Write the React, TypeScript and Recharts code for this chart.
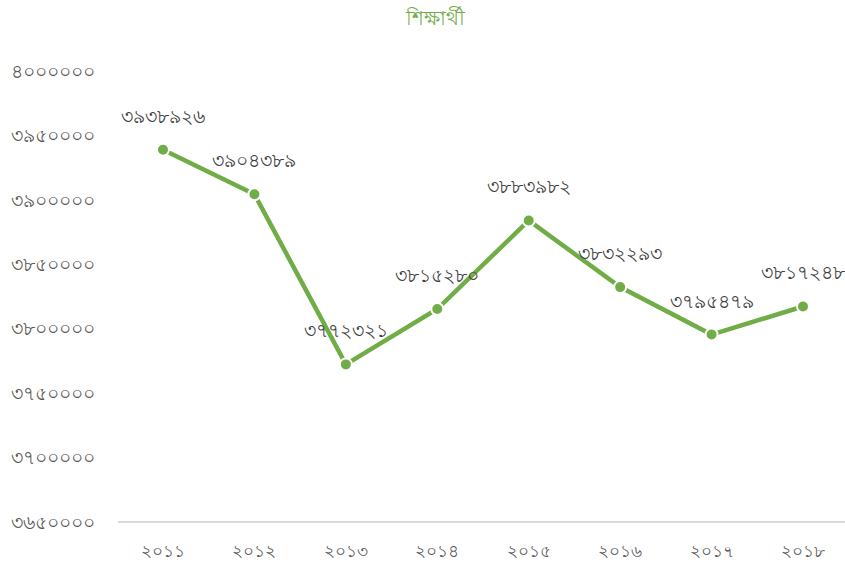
import React from "react";
import { LineChart, Line, XAxis, YAxis, LabelList } from "recharts";

const years = ["2011", "2012", "2013", "2014", "2015", "2016", "2017", "2018"];
const students = [3938926, 3904389, 3772321, 3815280, 3883982, 3832293, 3795479, 3817248];
const yTicks = [3650000, 3700000, 3750000, 3800000, 3850000, 3900000, 3950000, 4000000];
const title = "শিক্ষার্থী";

const bnDigits = ["০", "১", "২", "৩", "৪", "৫", "৬", "৭", "৮", "৯"];
const toBn = (v: string | number) => String(v).replace(/[0-9]/g, (d) => bnDigits[Number(d)]);

const data = years.map((y, i) => ({ year: y, value: students[i] }));

const GREEN = "#70AD47";
const FONT = "'Noto Sans', sans-serif";

export default function App() {
  return (
    <div style={{ position: "absolute", left: 0, top: 0, width: 845, height: 563, background: "#fff", fontFamily: FONT }}>
      <div style={{ position: "absolute", left: 0, width: 870, top: 3, textAlign: "center", color: GREEN, fontSize: 20 }}>{title}</div>
      <LineChart width={845} height={563} data={data} margin={{ top: 71, right: 0, bottom: 0, left: 0 }}>
        <XAxis
          dataKey="year"
          tickFormatter={toBn}
          axisLine={{ stroke: "#D9D9D9", strokeWidth: 2 }}
          tickLine={false}
          tickMargin={17}
          height={41}
          padding={{ left: 45, right: 42 }}
          tick={{ fill: "#595959", fontSize: 17, fontFamily: FONT }}
        />
        <YAxis
          domain={[3650000, 4000000]}
          ticks={yTicks}
          tickFormatter={toBn}
          axisLine={false}
          tickLine={false}
          tickSize={0}
          tickMargin={23}
          width={118}
          interval={0}
          tick={{ fill: "#595959", fontSize: 19, fontFamily: FONT }}
        />
        <Line
          dataKey="value"
          stroke={GREEN}
          strokeWidth={4.5}
          dot={{ r: 6, fill: GREEN, stroke: "#fff", strokeWidth: 2 }}
          isAnimationActive={false}
        >
          <LabelList
            dataKey="value"
            position="top"
            offset={27}
            formatter={toBn}
            style={{ fill: "#404040", fontSize: 18.5, fontFamily: FONT }}
          />
        </Line>
      </LineChart>
    </div>
  );
}
